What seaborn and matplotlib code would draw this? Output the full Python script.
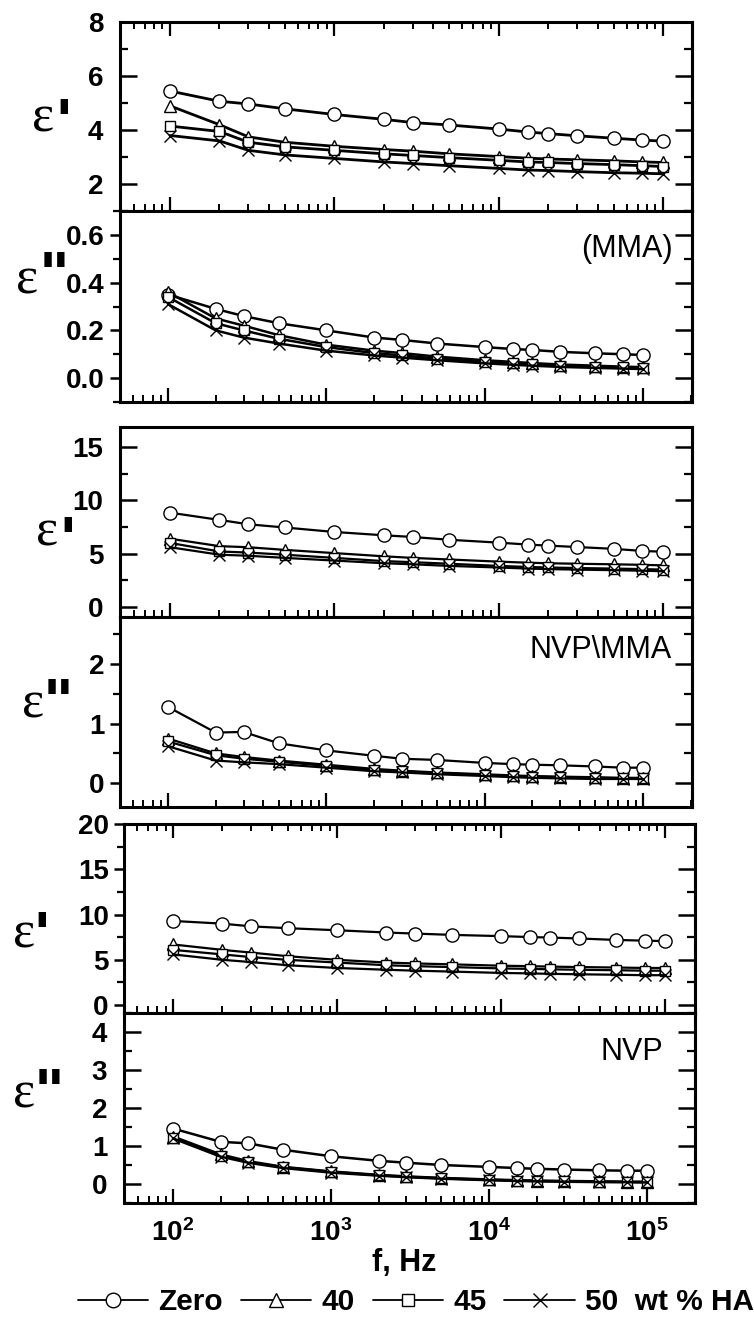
import numpy as np
import matplotlib
matplotlib.use("Agg")
import matplotlib.pyplot as plt
import seaborn as sns
from matplotlib.ticker import (MultipleLocator, LogLocator, NullFormatter,
                               FuncFormatter, FormatStrFormatter)
from matplotlib.lines import Line2D

# ---------------- data ----------------
freq = [100, 200, 300, 500, 1e3, 2e3, 3e3, 5e3, 1e4, 1.5e4, 2e4, 3e4, 5e4, 7.5e4, 1e5]
series = ["Zero", "40", "45", "50"]
legend_labels = ["Zero", "40", "45", "50  wt % HA"]
x_tick_labels = {2: "10^{2}", 3: "10^{3}", 4: "10^{4}", 5: "10^{5}"}

# MMA
mma_e1_zero = [5.45, 5.07, 4.97, 4.79, 4.58, 4.40, 4.28, 4.19, 4.04, 3.93, 3.87, 3.79, 3.70, 3.63, 3.59]
mma_e1_40 = [4.90, 4.20, 3.75, 3.55, 3.40, 3.28, 3.22, 3.12, 3.02, 2.96, 2.93, 2.90, 2.86, 2.82, 2.80]
mma_e1_45 = [4.15, 3.95, 3.55, 3.38, 3.25, 3.12, 3.06, 2.98, 2.88, 2.82, 2.80, 2.76, 2.72, 2.68, 2.65]
mma_e1_50 = [3.80, 3.60, 3.25, 3.08, 2.95, 2.82, 2.76, 2.68, 2.58, 2.52, 2.50, 2.46, 2.42, 2.40, 2.38]

mma_e2_zero = [0.35, 0.29, 0.26, 0.23, 0.20, 0.17, 0.16, 0.145, 0.13, 0.122, 0.118, 0.11, 0.104, 0.10, 0.097]
mma_e2_40 = [0.36, 0.25, 0.22, 0.18, 0.14, 0.115, 0.105, 0.09, 0.075, 0.068, 0.063, 0.057, 0.052, 0.048, 0.046]
mma_e2_45 = [0.34, 0.23, 0.20, 0.165, 0.13, 0.105, 0.095, 0.082, 0.068, 0.062, 0.058, 0.052, 0.048, 0.045, 0.043]
mma_e2_50 = [0.31, 0.20, 0.17, 0.145, 0.115, 0.095, 0.086, 0.075, 0.062, 0.056, 0.052, 0.047, 0.043, 0.040, 0.038]

# NVP\MMA
nm_e1_zero = [8.84, 8.16, 7.75, 7.45, 7.03, 6.72, 6.56, 6.30, 6.03, 5.85, 5.75, 5.62, 5.45, 5.25, 5.18]
nm_e1_40 = [6.40, 5.70, 5.60, 5.35, 5.05, 4.75, 4.60, 4.45, 4.25, 4.15, 4.10, 4.05, 4.00, 3.95, 3.90]
nm_e1_45 = [6.00, 5.20, 5.10, 4.90, 4.60, 4.30, 4.20, 4.05, 3.85, 3.75, 3.70, 3.65, 3.60, 3.55, 3.50]
nm_e1_50 = [5.60, 4.90, 4.80, 4.60, 4.35, 4.10, 4.00, 3.85, 3.70, 3.60, 3.55, 3.50, 3.45, 3.40, 3.35]

nm_e2_zero = [1.28, 0.85, 0.86, 0.67, 0.55, 0.46, 0.41, 0.39, 0.34, 0.32, 0.31, 0.30, 0.28, 0.26, 0.26]
nm_e2_40 = [0.75, 0.50, 0.44, 0.38, 0.31, 0.24, 0.21, 0.18, 0.15, 0.13, 0.12, 0.11, 0.10, 0.09, 0.09]
nm_e2_45 = [0.70, 0.47, 0.41, 0.36, 0.29, 0.22, 0.20, 0.17, 0.14, 0.12, 0.11, 0.10, 0.09, 0.08, 0.08]
nm_e2_50 = [0.62, 0.38, 0.35, 0.32, 0.26, 0.20, 0.18, 0.15, 0.12, 0.10, 0.09, 0.08, 0.07, 0.07, 0.07]

# NVP
nvp_e1_zero = [9.30, 9.00, 8.70, 8.50, 8.27, 8.02, 7.90, 7.76, 7.62, 7.52, 7.46, 7.36, 7.20, 7.12, 7.07]
nvp_e1_40 = [6.70, 6.10, 5.80, 5.40, 5.00, 4.70, 4.60, 4.50, 4.35, 4.30, 4.25, 4.20, 4.15, 4.10, 4.10]
nvp_e1_45 = [6.10, 5.60, 5.30, 5.00, 4.70, 4.40, 4.30, 4.20, 4.05, 4.00, 3.95, 3.90, 3.85, 3.80, 3.80]
nvp_e1_50 = [5.60, 5.00, 4.75, 4.40, 4.10, 3.90, 3.80, 3.70, 3.55, 3.50, 3.45, 3.40, 3.35, 3.30, 3.30]

nvp_e2_zero = [1.46, 1.11, 1.07, 0.90, 0.73, 0.61, 0.56, 0.50, 0.45, 0.42, 0.40, 0.38, 0.36, 0.35, 0.35]
nvp_e2_40 = [1.25, 0.78, 0.60, 0.45, 0.33, 0.24, 0.20, 0.16, 0.12, 0.10, 0.09, 0.08, 0.07, 0.06, 0.06]
nvp_e2_45 = [1.22, 0.75, 0.58, 0.44, 0.32, 0.23, 0.19, 0.15, 0.11, 0.09, 0.08, 0.07, 0.06, 0.05, 0.05]
nvp_e2_50 = [1.20, 0.72, 0.56, 0.42, 0.30, 0.22, 0.18, 0.14, 0.10, 0.08, 0.07, 0.06, 0.05, 0.05, 0.04]

panel_data = [
    [mma_e1_zero, mma_e1_40, mma_e1_45, mma_e1_50],
    [mma_e2_zero, mma_e2_40, mma_e2_45, mma_e2_50],
    [nm_e1_zero, nm_e1_40, nm_e1_45, nm_e1_50],
    [nm_e2_zero, nm_e2_40, nm_e2_45, nm_e2_50],
    [nvp_e1_zero, nvp_e1_40, nvp_e1_45, nvp_e1_50],
    [nvp_e2_zero, nvp_e2_40, nvp_e2_45, nvp_e2_50],
]

# ---------------- style ----------------
sns.set_theme(style="ticks")
plt.rcParams["font.family"] = ["Liberation Sans", "DejaVu Sans"]
plt.rcParams["text.color"] = "black"
plt.rcParams["axes.labelcolor"] = "black"
plt.rcParams["xtick.color"] = "black"
plt.rcParams["ytick.color"] = "black"
plt.rcParams["mathtext.fontset"] = "custom"
plt.rcParams["mathtext.bf"] = "Liberation Sans:bold"
plt.rcParams["mathtext.rm"] = "Liberation Sans:bold"

W, H = 754, 1318
fig = plt.figure(figsize=(W / 100, H / 100), dpi=100)


def rect(x0, y0, x1, y1):
    return [x0 / W, 1 - y1 / H, (x1 - x0) / W, (y1 - y0) / H]


markers = {"Zero": "o", "40": "^", "45": "s", "50": "x"}
msizes = {"Zero": 9.5, "40": 9.0, "45": 7.5, "50": 9.0}

panels = [
    dict(box=(120, 22, 692, 211), xlim=(10**1.6957, 10**5.1765), ylim=(1.0, 8.01),
         major=2, minor=1, fmt="%d", ldir="in", top=True, lw=2.0),
    dict(box=(120, 211, 692, 402), xlim=(10**1.6968, 10**5.3095), ylim=(-0.10, 0.70),
         major=0.2, minor=0.1, fmt="%.1f", ldir="out", top=False, lw=1.8),
    dict(box=(120, 427, 692, 617), xlim=(10**1.6957, 10**5.1765), ylim=(-0.94, 16.87),
         major=5, minor=2.5, fmt="%d", ldir="in", top=False, lw=1.6),
    dict(box=(120, 617, 692, 807), xlim=(10**1.6968, 10**5.3095), ylim=(-0.40, 2.79),
         major=1, minor=0.5, fmt="%d", ldir="out", top=False, lw=1.6),
    dict(box=(124, 824, 695, 1013), xlim=(10**1.701, 10**5.183), ylim=(-0.88, 20.02),
         major=5, minor=2.5, fmt="%d", ldir="out", top=True, lw=1.6),
    dict(box=(124, 1013, 695, 1203), xlim=(10**1.690, 10**5.304), ylim=(-0.5, 4.5),
         major=1, minor=0.5, fmt="%d", ldir="in", top=False, lw=1.8),
]

TICK_FS = 20

for i, (p, vals) in enumerate(zip(panels, panel_data)):
    ax = fig.add_axes(rect(*p["box"]))
    for name, y in zip(series, vals):
        sns.lineplot(x=freq, y=y, ax=ax, color="black", lw=p["lw"],
                     marker=markers[name], markersize=msizes[name],
                     markerfacecolor="white", markeredgecolor="black",
                     markeredgewidth=1.0, legend=False)
    ax.set_xscale("log")
    ax.set_xlim(*p["xlim"])
    ax.set_ylim(*p["ylim"])
    ax.set_xlabel("")
    ax.set_ylabel("")
    ax.set_facecolor("white")
    for s in ax.spines.values():
        s.set_linewidth(2.2)
        s.set_color("black")
    # x ticks
    ax.xaxis.set_major_locator(LogLocator(base=10, numticks=10))
    ax.xaxis.set_minor_locator(LogLocator(base=10, subs=np.arange(2, 10), numticks=20))
    ax.xaxis.set_minor_formatter(NullFormatter())
    ax.tick_params(axis="x", which="major", direction="in", length=10, width=1.6,
                   top=p["top"], bottom=True, colors="black")
    ax.tick_params(axis="x", which="minor", direction="in", length=5, width=1.4,
                   top=p["top"], bottom=True, colors="black")
    if i == 5:
        ax.xaxis.set_major_formatter(FuncFormatter(
            lambda v, pos: r"$\mathbf{%s}$" % x_tick_labels.get(int(round(np.log10(v))), "")))
        ax.tick_params(axis="x", which="major", labelsize=TICK_FS, pad=12)
    else:
        ax.tick_params(axis="x", which="both", labelbottom=False)
    # y ticks (left)
    ax.yaxis.set_major_locator(MultipleLocator(p["major"]))
    ax.yaxis.set_minor_locator(MultipleLocator(p["minor"]))
    ax.yaxis.set_major_formatter(FormatStrFormatter(p["fmt"]))
    if p["ldir"] == "in":
        ax.tick_params(axis="y", which="major", direction="in", length=12, width=1.8,
                       pad=12, right=False, labelsize=TICK_FS, colors="black")
        ax.tick_params(axis="y", which="minor", direction="in", length=6, width=1.6,
                       right=False, colors="black")
    else:
        ax.tick_params(axis="y", which="major", direction="out", length=7, width=1.8,
                       pad=4, right=False, labelsize=TICK_FS, colors="black")
        ax.tick_params(axis="y", which="minor", direction="out", length=5, width=1.6,
                       right=False, colors="black")
    for lab in ax.get_yticklabels() + ax.get_xticklabels():
        lab.set_fontweight("bold")
    # right ticks (inward)
    sec = ax.secondary_yaxis("right")
    sec.yaxis.set_major_locator(MultipleLocator(p["major"]))
    sec.yaxis.set_minor_locator(MultipleLocator(p["minor"]))
    sec.yaxis.set_major_formatter(NullFormatter())
    sec.tick_params(axis="y", which="major", direction="in", length=12, width=1.8,
                    labelright=False, colors="black")
    sec.tick_params(axis="y", which="minor", direction="in", length=6, width=1.6,
                    colors="black")
    sec.spines["right"].set_linewidth(2.2)


def ftext(x, y, s, **kw):
    fig.text(x / W, 1 - y / H, s, **kw)


# y labels: epsilon (ink bottom = baseline) + prime(s) (ink bottom given)
EPS_FS = 38
PRIME_FS = 44
prime_off = 0.47 * PRIME_FS * 100 / 72
ylabels = [
    ((43, 132), (64, 112), "'"),
    ((27, 293), (54, 265), '"'),
    ((47, 545), (68, 530), "'"),
    ((33, 718), (58, 692), '"'),
    ((24, 947), (42, 925), "'"),
    ((24, 1108), (49, 1082), '"'),
]
for (ex, ey), (px, py), pr in ylabels:
    ftext(ex, ey, "ε", family=["Liberation Serif", "DejaVu Serif"], fontsize=EPS_FS,
          ha="center", va="baseline")
    ftext(px, py + prime_off, pr, fontsize=PRIME_FS, fontweight="bold",
          ha="center", va="baseline")

# panel annotations
ftext(673, 257, "(MMA)", fontsize=22, ha="right", va="baseline")
ftext(672, 658, "NVP\\MMA", fontsize=22, ha="right", va="baseline")
ftext(663, 1060, "NVP", fontsize=22, ha="right", va="baseline")

# x label
ftext(404, 1271, "f, Hz", fontsize=22, fontweight="bold", ha="center", va="baseline")

# legend
handles = [Line2D([0], [0], color="black", lw=1.3, marker=markers[n],
                  markersize=msizes[n] + 1, markerfacecolor="white",
                  markeredgecolor="black", markeredgewidth=1.0) for n in series]
fig.legend(handles, legend_labels, ncol=4, loc="center",
           bbox_to_anchor=(416 / W, 1 - 1302 / H), frameon=False,
           handlelength=2.35, handletextpad=0.35, columnspacing=0.6,
           prop={"weight": "bold", "size": 21.5}, borderaxespad=0, borderpad=0)

fig.savefig("out.png", dpi=100, facecolor="white")
